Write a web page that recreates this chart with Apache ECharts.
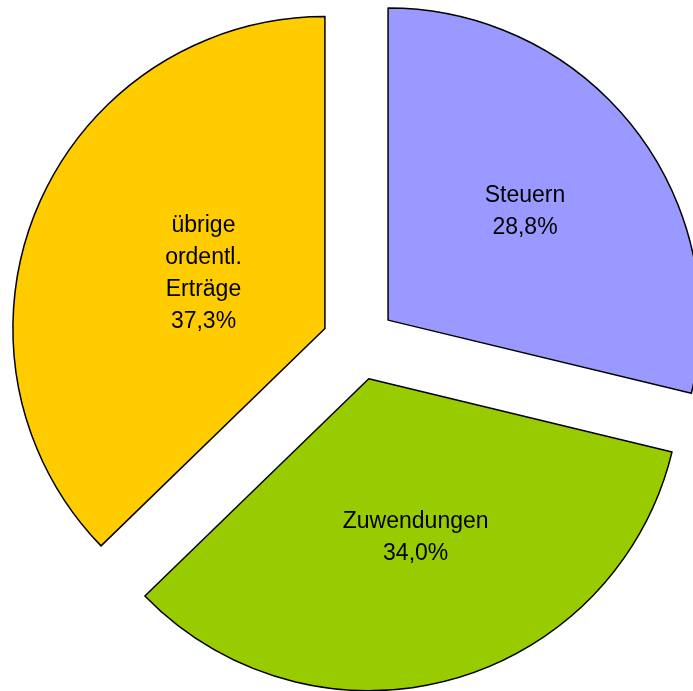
<!DOCTYPE html>
<html lang="de">
<head>
	<meta charset="UTF-8">
	<title>Erträge</title>
	<script src="https://cdn.jsdelivr.net/npm/echarts@6/dist/echarts.min.js"></script>
	<style>
		html, body { margin: 0; padding: 0; background: #fff; }
	</style>
</head>
<body>
	<div id="main" style="width: 693px;height:691px;"></div>
	<script type="text/javascript">
		// Kategorien und Anteile (%)
		var categories = ['Steuern', 'Zuwendungen', 'übrige\nordentl.\nErträge'];
		var shares = [28.8, 34.0, 37.3];
		var colors = ['#9999ff', '#99cc00', '#ffcc00'];
		// kleine Verschiebung der Beschriftung innerhalb des Segments
		var labelShift = [[12, -10], [5, 6], [25, 7]];

		var myChart = echarts.init(document.getElementById('main'));

		var data = [];
		for (var i = 0; i < categories.length; i++) {
			data.push({
				name: categories[i],
				value: shares[i],
				selected: true,
				itemStyle: { color: colors[i] }
			});
		}

		var option = {
			backgroundColor: '#ffffff',
			animation: false,
			series: [{
				type: 'pie',
				center: [359, 343],
				radius: 312,
				startAngle: 90,
				clockwise: true,
				selectedMode: 'multiple',
				selectedOffset: 37,
				data: data,
				itemStyle: {
					borderColor: '#000',
					borderWidth: 1.5
				},
				select: {
					itemStyle: {
						borderColor: '#000',
						borderWidth: 1.5
					}
				},
				label: {
					show: true,
					position: 'inner',
					color: '#000',
					fontFamily: 'Liberation Sans, Arial, sans-serif',
					fontSize: 23,
					lineHeight: 32,
					formatter: function (p) {
						return p.name + '\n' + p.value.toFixed(1).replace('.', ',') + '%';
					}
				},
				labelLayout: function (p) {
					return { dx: labelShift[p.dataIndex][0], dy: labelShift[p.dataIndex][1] };
				},
				labelLine: { show: false },
				emphasis: { disabled: true }
			}]
		};

		myChart.setOption(option);
	</script>
</body>
</html>
